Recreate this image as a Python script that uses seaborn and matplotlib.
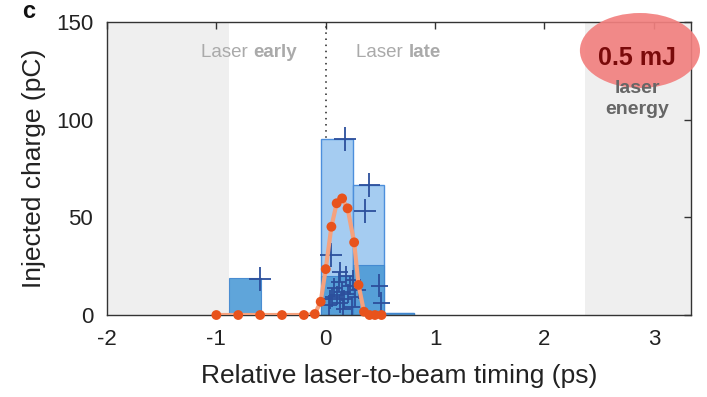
import numpy as np
import pandas as pd
import matplotlib
matplotlib.use("Agg")
import matplotlib.pyplot as plt
from matplotlib.patches import Ellipse
import seaborn as sns

# ---------------- data ----------------
# histogram bins (ps) and charge (pC)
light_left = [-0.04, 0.25, 0.53]
light_width = [0.29, 0.28, 0.28]
light_height = [90, 66.5, 0.8]

dark_left = [-0.88, -0.04, 0.25, 0.53]
dark_width = [0.29, 0.29, 0.28, 0.28]
dark_height = [18.8, 20.0, 25.6, 0.8]

# simulation / fit points (orange)
sim_t = [-1.0, -0.8, -0.6, -0.4, -0.2, -0.1, -0.046, 0.0, 0.052, 0.10, 0.15,
         0.20, 0.26, 0.30, 0.35, 0.40, 0.45, 0.51]
sim_q = [0, 0, 0, 0, 0, 0.5, 6.8, 23.5, 45.2, 57.2, 59.7, 54.6, 37.2, 15.4,
         1.7, 0, 0, 0]

# measured shots (crosses)
shot_t = [-0.60, 0.175, 0.40, 0.36, 0.05, 0.49, 0.51,
          0.03, 0.06, 0.08, 0.10, 0.12, 0.13, 0.15, 0.17, 0.19, 0.20,
          0.22, 0.24, 0.27, 0.13, 0.25, 0.30, 0.04, 0.16]
shot_q = [18.4, 90, 66.5, 53.2, 30.7, 15, 6,
          5, 9, 14, 10, 17, 6, 12, 8, 20, 11,
          15, 4, 9, 22, 18, 13, 8, 3]
shot_terr = [0.10, 0.10, 0.10, 0.10, 0.10, 0.08, 0.08,
             0.07, 0.07, 0.07, 0.07, 0.07, 0.07, 0.07, 0.07, 0.07, 0.07,
             0.07, 0.07, 0.07, 0.07, 0.07, 0.07, 0.07, 0.07]
shot_qerr = [6, 6, 6, 6, 6, 6, 6,
             5, 5, 5, 5, 5, 5, 5, 5, 5, 5,
             5, 5, 5, 5, 5, 5, 5, 5]

early_edge = -0.88
late_edge = 2.37
x_ticks = [-2, -1, 0, 1, 2, 3]
y_ticks = [0, 50, 100, 150]

# ---------------- style ----------------
sns.set_theme(style="white")
plt.rcParams["font.family"] = ["Liberation Sans", "DejaVu Sans"]
plt.rcParams["axes.unicode_minus"] = False

fig = plt.figure(figsize=(7.07, 3.97), dpi=100)
ax = fig.add_axes([0.1513, 0.2065, 0.9774 - 0.1513, 0.9446 - 0.2065])

xmin, xmax = -2, 3.34
ax.set_xlim(xmin, xmax)
ax.set_ylim(0, 150)

# shaded regions
ax.axvspan(xmin, early_edge, color="#efefef", zorder=0, lw=0)
ax.axvspan(late_edge, xmax, color="#efefef", zorder=0, lw=0)

# time-zero dotted line
ax.axvline(0, color="#222222", ls=(0, (1, 3)), lw=1.1, zorder=0.5)

# bars
ax.bar(light_left, light_height, width=light_width, align="edge",
       color="#a5ccf1", edgecolor="#4d8fdc", linewidth=1.0, zorder=1)
ax.bar(dark_left, dark_height, width=dark_width, align="edge",
       color="#4e9bd6", edgecolor="#3f86cf", linewidth=0.8, zorder=1.5, alpha=0.9)

# measured shots
ax.errorbar(shot_t, shot_q, xerr=shot_terr, yerr=shot_qerr, fmt="none",
            ecolor="#2c4f9c", elinewidth=1.3, capsize=0, zorder=2)

# simulation curve
df = pd.DataFrame({"t": sim_t, "q": sim_q})
sns.lineplot(data=df, x="t", y="q", ax=ax, color="#f5a27e", lw=3.0,
             zorder=3, sort=False)
sns.scatterplot(data=df, x="t", y="q", ax=ax, color="#e8531c", s=50,
                edgecolor="none", zorder=4, clip_on=False)

# axes styling
for sp in ax.spines.values():
    sp.set_color("#333333")
    sp.set_linewidth(1.0)
ax.set_xticks(x_ticks)
ax.set_yticks(y_ticks)
ax.tick_params(direction="in", top=True, right=True, length=5, width=1,
               color="#333333", labelsize=16, labelcolor="#222222", pad=10)
ax.set_xlabel("Relative laser-to-beam timing (ps)", fontsize=19,
              color="#222222", labelpad=10)
ax.set_ylabel("Injected charge (pC)", fontsize=19, color="#222222",
              labelpad=7)

# region labels
grey = "#aaaaaa"
ax.text(-0.665, 134.5, "Laser ", ha="right", va="center", fontsize=13.5,
        color=grey)
ax.text(-0.665, 134.5, "early", ha="left", va="center", fontsize=13.5,
        color=grey, fontweight="bold")
ax.text(0.755, 134.5, "Laser ", ha="right", va="center", fontsize=13.5,
        color=grey)
ax.text(0.755, 134.5, "late", ha="left", va="center", fontsize=13.5,
        color=grey, fontweight="bold")

# laser energy badge
ell = Ellipse((2.873, 135.4), 1.098, 38.4, facecolor="#f2807f",
              edgecolor="none", alpha=0.92, zorder=5, clip_on=False)
ax.add_patch(ell)
ax.text(2.85, 131.5, "0.5 mJ", ha="center", va="center", fontsize=18,
        fontweight="bold", color="#7a0a0a", zorder=6)
ax.text(2.85, 116, "laser", ha="center", va="center", fontsize=14,
        fontweight="bold", color="#666666", zorder=6)
ax.text(2.85, 105, "energy", ha="center", va="center", fontsize=14,
        fontweight="bold", color="#666666", zorder=6)

# panel label
fig.text(0.04, 0.97, "c", ha="center", va="center", fontsize=17,
         fontweight="bold", color="#111111")

fig.savefig("out.png", dpi=100)
